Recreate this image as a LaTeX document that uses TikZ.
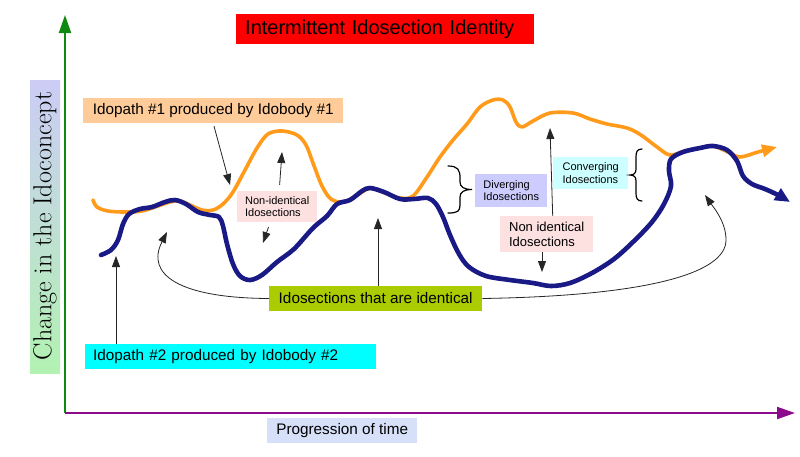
\documentclass[tikz,border=0pt]{standalone}
\usepackage{fontspec}
\usepackage{tikz}
\usetikzlibrary{arrows.meta,positioning,calc}
\newfontfamily\idofont{Liberation Sans}
\definecolor{idored}{HTML}{FF0000}
\definecolor{peach}{HTML}{FFCC99}
\definecolor{aqua}{HTML}{00FFFF}
\definecolor{lime}{HTML}{AACC00}
\definecolor{blush}{HTML}{FDE0E0}
\definecolor{lilac}{HTML}{CCCCFF}
\definecolor{icecyan}{HTML}{CCFFFF}
\definecolor{mist}{HTML}{D6E0F8}
\definecolor{pathorange}{HTML}{FF9A1A}
\definecolor{pathnavy}{HTML}{1A1A86}
\definecolor{axisgreen}{HTML}{118811}
\definecolor{axispurple}{HTML}{8C0A8C}
\definecolor{shadetop}{HTML}{CCCCF6}
\definecolor{shademid}{HTML}{BEE0E2}
\definecolor{shadebot}{HTML}{B2F2B2}

\begin{document}
\begin{tikzpicture}[
    x=1pt, y=-1pt,
    tag/.style={inner sep=0pt, anchor=west, align=left, text=black},
    bigtag/.style={tag, font=\idofont\fontsize{15.3}{18}\selectfont, minimum height=25pt},
    smalltag/.style={tag, font=\idofont\fontsize{11}{12.5}\selectfont},
    pointer/.style={draw=black!85, line width=0.8pt, -{Triangle[length=11pt,width=8pt]}},
    idobrace/.style={draw=black, line width=1.2pt, line cap=round},
    axis/.style={line width=2pt, -{Triangle[length=18pt,width=12pt]}},
    idopath/.style={line cap=round, line join=round},
  ]
  \useasboundingbox (0,0) rectangle (800,456);

  % axes
  \coordinate (origin) at (65,413);
  \coordinate (ytip) at (65,15);
  \coordinate (xtip) at (795,413);
  \draw[axis, axisgreen] (origin) -- (ytip);
  \draw[axis, axispurple] (origin) -- (xtip);

  % labels
  \node[bigtag, fill=idored, font=\idofont\fontsize{20}{24}\selectfont,
    minimum height=30pt, inner xsep=9pt, text width=280pt] (title) at (236,29)
    {Intermittent Idosection Identity};
  \shade[top color=shadetop, middle color=shademid, bottom color=shadebot] (30,80) rectangle (60,373);
  \node[rotate=90, font=\fontsize{26}{30}\selectfont] (ylab) at (45,226)
    {Change in the Idoconcept};
  \node[bigtag, fill=mist, minimum width=150pt] (timelab) at (267,430.5) {Progression of time};
  \node[bigtag, fill=peach, minimum width=260pt] (pathA) at (83,110.5) {Idopath \#1 produced by Idobody \#1};
  \node[bigtag, fill=aqua, inner xsep=8pt, text width=275pt] (pathB) at (85,356.5) {Idopath \#2 produced by Idobody \#2};
  \node[bigtag, fill=lime, minimum width=213pt] (same) at (269,298.5) {Idosections that are identical};
  \node[smalltag, fill=blush, minimum height=31pt, minimum width=80pt] (nonidA) at (237,206.5)
    {Non-identical\\Idosections};
  \node[smalltag, fill=lilac, minimum height=33pt, minimum width=72pt] (diverge) at (475,190.5)
    {Diverging\\Idosections};
  \node[smalltag, fill=icecyan, minimum height=32pt, minimum width=75pt] (converge) at (553,173)
    {Converging\\Idosections};
  \node[tag, fill=blush, font=\idofont\fontsize{13}{15}\selectfont, minimum height=36pt,
    minimum width=93pt] (nonidB) at (500,234) {Non identical\\Idosections};

  % idopath #1
  \draw[idopath, pathorange, line width=3.6pt, -{Triangle[length=15pt,width=12pt]}]
    plot[smooth, tension=0.55] coordinates {
      (93,200) (97,207) (108,211) (125,212) (142,211) (158,206) (170,202) (180,201)
      (190,205) (202,210) (213,210) (223,204) (233,192) (245,170) (257,148) (268,134)
      (282,131) (297,135) (306,145) (313,163) (322,186) (331,199) (343,202) (356,196)
      (370,188) (385,193) (400,198) (413,196) (427,177) (440,157) (453,140) (467,124)
      (480,107) (493,100) (503,100) (510,107) (516,122) (522,127) (533,121) (550,113)
      (573,113) (590,119) (607,124) (627,128) (641,135) (657,147) (670,155) (685,151)
      (700,148) (713,146) (728,152) (740,157) (758,152) (777,147)};

  % idopath #2
  \draw[idopath, pathnavy, line width=4.6pt, -{Triangle[length=15pt,width=13pt]}]
    plot[smooth, tension=0.55] coordinates {
      (101,255) (111,250) (118,240) (123,224) (129,214) (140,209) (152,207) (165,202)
      (175,200) (186,204) (198,212) (210,215) (219,217) (223,226) (227,244) (233,264)
      (240,276) (250,280) (262,275) (277,262) (294,249) (313,228) (327,216) (337,204)
      (350,200) (362,191) (370,188) (384,192) (400,199) (414,199) (428,198) (436,204)
      (443,217) (450,235) (459,254) (469,267) (486,276) (510,280) (533,283) (551,286)
      (570,283) (592,273) (614,259) (634,241) (652,222) (664,204) (671,186) (669,171)
      (671,159) (683,152) (700,148) (713,146) (727,150) (737,161) (743,176) (752,184)
      (765,189) (778,195) (790,202)};

  % braces
  \draw[idobrace] (448,166) .. controls (458,166) and (460,170) .. (460,178) -- (460,182)
    .. controls (460,187) and (464,189.5) .. (472,189.5)
    .. controls (464,189.5) and (460,192) .. (460,197) -- (460,205)
    .. controls (460,211) and (458,213) .. (448,213);
  \draw[idobrace] (642,149) .. controls (637,149) and (636,152) .. (636,157) -- (636,169)
    .. controls (636,173) and (634,175) .. (630,175)
    .. controls (634,175) and (636,177) .. (636,181) -- (636,193)
    .. controls (636,198) and (637,201) .. (642,201);

  % pointers
  \coordinate (hitA) at (230,185);
  \coordinate (hitB) at (116,256);
  \coordinate (peakA) at (282,152);
  \coordinate (dipA) at (263,243);
  \coordinate (peakB) at (550,128);
  \coordinate (dipB) at (542,272);
  \coordinate (sameL) at (167,232);
  \coordinate (sameM) at (378,218);
  \coordinate (sameR) at (705,195);
  \draw[pointer, shorten <=3pt] (pathA.south) -- (hitA);
  \draw[pointer] (hitB |- pathB.north) -- (hitB);
  \draw[pointer, shorten <=6pt] ([xshift=2pt]nonidA.north) -- (peakA);
  \draw[pointer, shorten <=5pt] ([xshift=-7pt]nonidA.south) -- (dipA);
  \draw[pointer] ([xshift=6pt]nonidB.north) -- (peakB);
  \draw[pointer] (dipB |- nonidB.south) -- (dipB);
  \draw[pointer] (same.west) .. controls (180,298) and (145,275) .. (sameL);
  \draw[pointer] (sameM |- same.north) -- (sameM);
  \draw[pointer] (same.east) .. controls (640,296) and (726,275) .. (726,240)
    .. controls (726,222) and (714,208) .. (sameR);
\end{tikzpicture}
\end{document}
